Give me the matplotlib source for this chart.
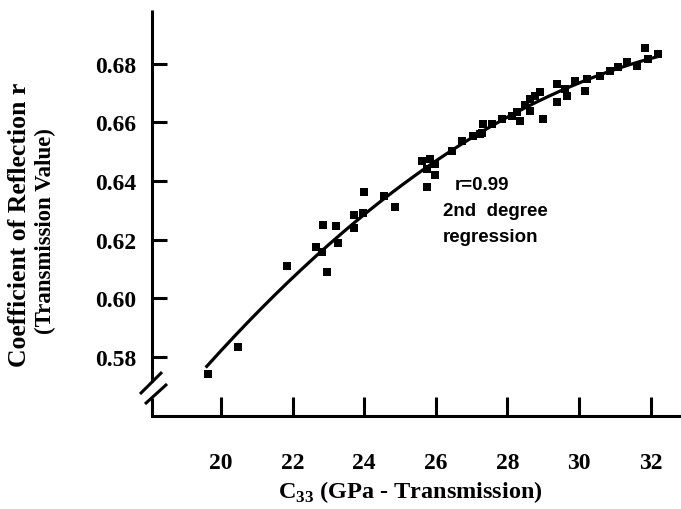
import numpy as np
import matplotlib
matplotlib.use("Agg")
import matplotlib.pyplot as plt

plt.rcParams["mathtext.fontset"] = "custom"
plt.rcParams["mathtext.rm"] = "Liberation Serif:bold"
plt.rcParams["mathtext.bf"] = "Liberation Serif:bold"

# Data
c33 = [19.63, 20.48, 21.84, 22.95, 22.65, 22.81, 22.84, 23.20, 23.26, 23.70,
       23.72, 23.97, 24.00, 24.55, 24.86, 25.75, 25.98, 25.75, 25.84, 25.98,
       25.62, 26.44, 26.72, 27.05, 27.23, 27.33, 27.56, 27.84, 28.12, 28.26,
       28.63, 29.00, 28.35, 28.63, 28.91, 28.77, 29.38, 29.38, 29.66, 29.61,
       29.89, 30.17, 30.21, 30.59, 30.87, 31.10, 31.33, 31.61, 31.94, 31.85,
       32.20, 27.30, 28.50]
refl = [0.5741, 0.5834, 0.6111, 0.6090, 0.6173, 0.6156, 0.6250, 0.6247, 0.6190, 0.6238,
        0.6285, 0.6289, 0.6363, 0.6350, 0.6310, 0.6378, 0.6420, 0.6441, 0.6475, 0.6458,
        0.6468, 0.6503, 0.6537, 0.6554, 0.6560, 0.6594, 0.6594, 0.6611, 0.6623, 0.6634,
        0.6640, 0.6611, 0.6605, 0.6680, 0.6702, 0.6691, 0.6731, 0.6668, 0.6691, 0.6714,
        0.6742, 0.6708, 0.6748, 0.6759, 0.6776, 0.6788, 0.6805, 0.6793, 0.6816, 0.6854,
        0.6833, 0.6565, 0.6660]
x_ticks = [20, 22, 24, 26, 28, 30, 32]
y_ticks = [0.58, 0.60, 0.62, 0.64, 0.66, 0.68]
note_lines = ["r=0.99", "2nd  degree", "regression"]

serif = ["Liberation Serif", "DejaVu Serif"]
sans = ["Liberation Sans", "DejaVu Sans"]

fig = plt.figure(figsize=(6.81, 5.10), dpi=100)
ax = fig.add_axes([152 / 681, (510 - 416.5) / 510, 529 / 681, 405.5 / 510])

ax.scatter(c33, refl, marker="s", s=30, color="black", zorder=3, linewidths=0)

coef = np.polyfit(c33, refl, 2)
xs = np.linspace(19.6, max(c33), 200)
ax.plot(xs, np.polyval(coef, xs), color="black", lw=2.3)

ax.set_xlim(18.07, 32.85)
ax.set_ylim(0.560, 0.6983)

ax.set_xticks(x_ticks)
ax.set_xticklabels([str(v) for v in x_ticks])
ax.set_yticks(y_ticks)
ax.set_yticklabels([f"{v:.2f}" for v in y_ticks])

for lab in ax.get_xticklabels() + ax.get_yticklabels():
    lab.set_fontfamily(serif)
    lab.set_fontweight("bold")
    lab.set_fontsize(17)

ax.tick_params(axis="x", direction="in", length=14, width=2.2, pad=26)
ax.tick_params(axis="y", direction="in", length=11, width=2.2, pad=11)

for s in ["top", "right", "left"]:
    ax.spines[s].set_visible(False)
ax.spines["bottom"].set_linewidth(2.2)

# Broken left axis
kw = dict(transform=ax.transAxes, color="black", lw=2.2, clip_on=False,
          solid_capstyle="butt")
ax.plot([0, 0], [0.083, 1.0], **kw)
ax.plot([0, 0], [0, 0.043], **kw)
ax.plot([-0.0227, 0.0189], [0.053, 0.107], **kw)
ax.plot([-0.0132, 0.0284], [0.0284, 0.0777], **kw)

note_pos = [(455, 185), (443, 212), (443, 237)]
for txt, (px, py) in zip(note_lines, note_pos):
    fig.text(px / 681, 1 - py / 510, txt, fontsize=13.5, fontweight="bold",
             family=sans, va="center", ha="left")

fig.text(410 / 681, 1 - 492 / 510, r"C$_{\mathbf{33}}$ (GPa - Transmission)",
         fontsize=17.5, fontweight="bold", family=serif, ha="center", va="center")
fig.text(20 / 681, 1 - 225 / 510, "Coefficient of Reflection r",
         fontsize=18.5, fontweight="bold", family=serif, ha="center", va="center",
         rotation=90)
fig.text(45 / 681, 1 - 231 / 510, "(Transmission Value)",
         fontsize=16.5, fontweight="bold", family=serif, ha="center", va="center",
         rotation=90)

fig.savefig("out.png", dpi=100)
